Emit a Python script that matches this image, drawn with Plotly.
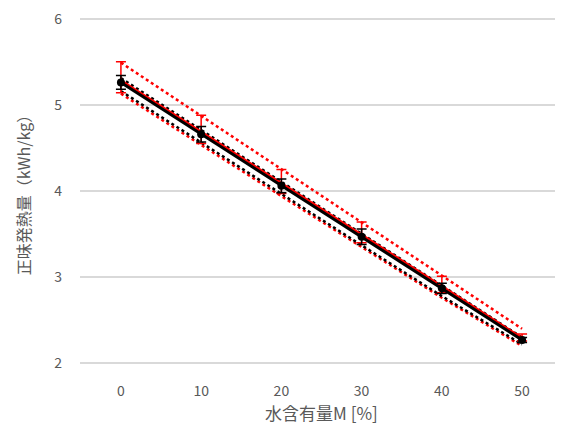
import plotly.graph_objects as go

moisture = [0, 10, 20, 30, 40, 50]
x_ticks = [0, 10, 20, 30, 40, 50]
y_ticks = [2, 3, 4, 5, 6]

black_vals = [5.26, 4.66, 4.06, 3.47, 2.87, 2.27]
black_err = [0.08, 0.09, 0.08, 0.09, 0.06, 0.03]

red_vals = [5.28, 4.68, 4.08, 3.49, 2.89, 2.29]
red_err_plus = [0.22, 0.20, 0.17, 0.15, 0.12, 0.05]
red_err_minus = [0.14, 0.13, 0.11, 0.09, 0.07, 0.03]

red_upper = [5.49, 4.87, 4.25, 3.64, 3.02, 2.40]
red_lower = [5.13, 4.53, 3.94, 3.35, 2.76, 2.20]
black_upper = [5.31, 4.71, 4.11, 3.51, 2.91, 2.30]
black_lower = [5.16, 4.56, 3.96, 3.37, 2.78, 2.22]

fig = go.Figure()

fig.add_trace(go.Scatter(x=moisture, y=red_upper, mode="lines",
                         line=dict(color="#ff0000", width=2.5, dash="3px,3px")))
fig.add_trace(go.Scatter(x=moisture, y=red_lower, mode="lines",
                         line=dict(color="#ff0000", width=2.5, dash="3px,3px")))
fig.add_trace(go.Scatter(x=moisture, y=black_upper, mode="lines",
                         line=dict(color="#000000", width=2.5, dash="3px,3px")))
fig.add_trace(go.Scatter(x=moisture, y=black_lower, mode="lines",
                         line=dict(color="#000000", width=2.5, dash="3px,3px")))

fig.add_trace(go.Scatter(x=moisture, y=red_vals, mode="lines",
                         line=dict(color="#ff0000", width=3),
                         error_y=dict(type="data", array=red_err_plus, arrayminus=red_err_minus,
                                      color="#ff0000", thickness=1.5, width=5)))
fig.add_trace(go.Scatter(x=moisture, y=black_vals, mode="lines+markers",
                         line=dict(color="#000000", width=3),
                         marker=dict(color="#000000", size=8),
                         error_y=dict(type="data", array=black_err,
                                      color="#000000", thickness=1.5, width=5)))

fig.update_layout(
    width=555, height=419,
    margin=dict(l=72, r=0, t=9, b=62),
    paper_bgcolor="white", plot_bgcolor="white",
    showlegend=False,
    font=dict(family="Noto Sans CJK JP, Noto Sans, sans-serif", color="#595959", size=14),
)
fig.update_xaxes(range=[-5.1, 55.1], tickvals=x_ticks, showgrid=False, zeroline=False,
                 showline=False, ticks="", ticklabelstandoff=16,
                 tickfont=dict(size=14, color="#595959"),
                 title=dict(text="水含有量M [%]", font=dict(size=17, color="#595959"), standoff=2))
fig.update_yaxes(range=[1.98, 6.02], tickvals=y_ticks, showgrid=True, gridcolor="#d9d9d9", gridwidth=1.5,
                 zeroline=False, showline=False, ticks="", ticklabelstandoff=17,
                 ticklabeloverflow="allow",
                 tickfont=dict(size=14, color="#595959"),
                 title=dict(text="正味発熱量（kWh/kg）", font=dict(size=16, color="#595959"), standoff=19))

fig.write_html("out.html")
